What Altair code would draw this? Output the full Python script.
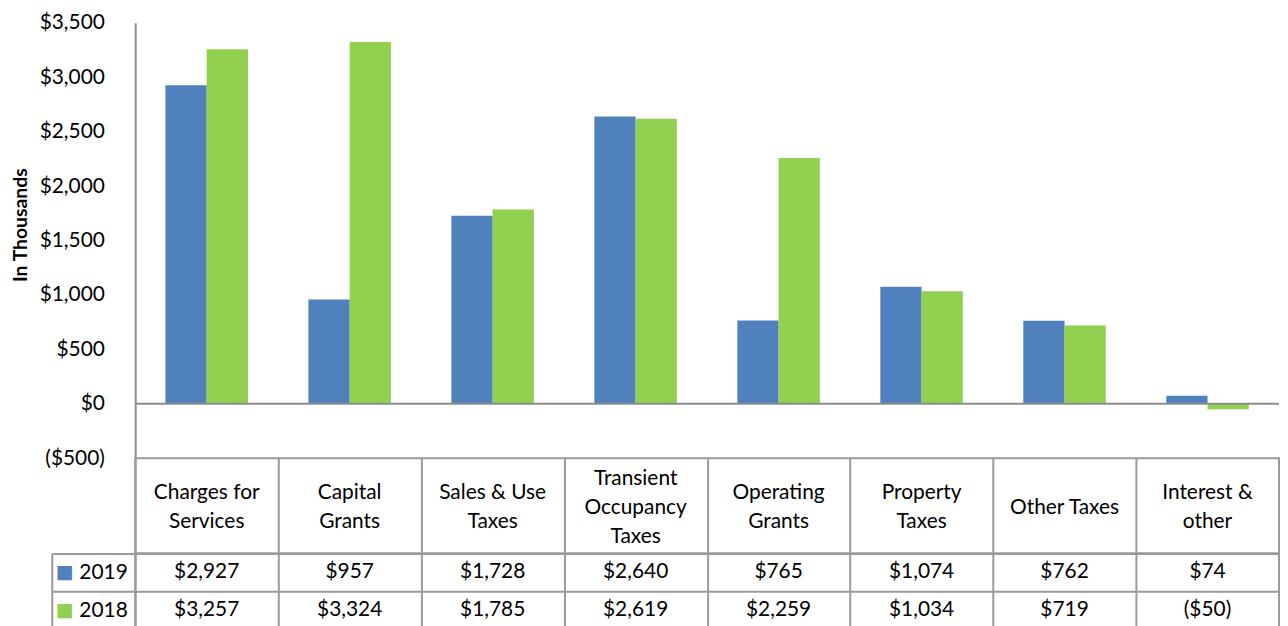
import altair as alt
import pandas as pd

categories = ["Charges for Services", "Capital Grants", "Sales & Use Taxes",
              "Transient Occupancy Taxes", "Operating Grants", "Property Taxes",
              "Other Taxes", "Interest & other"]
header_lines = [["Charges for", "Services"], ["Capital", "Grants"], ["Sales & Use", "Taxes"],
                ["Transient", "Occupancy", "Taxes"], ["Operating", "Grants"],
                ["Property", "Taxes"], ["Other Taxes"], ["Interest &", "other"]]
years = ["2019", "2018"]
values_2019 = [2927, 957, 1728, 2640, 765, 1074, 762, 74]
values_2018 = [3257, 3324, 1785, 2619, 2259, 1034, 719, -50]
colors = ["#4F81BD", "#92D050"]
y_ticks = [-500, 0, 500, 1000, 1500, 2000, 2500, 3000, 3500]

FONT = "Lato"
BORDER = "#9A9A9A"
FS = 21

rows = []
for yr, vals in zip(years, [values_2019, values_2018]):
    for c, v in zip(categories, vals):
        rows.append({"category": c, "year": yr, "value": v})
df = pd.DataFrame(rows)

# one row per header text line; "line" is its place relative to the cell's middle line
hrows = []
for c, lines in zip(categories, header_lines):
    n = len(lines)
    for i, t in enumerate(lines):
        hrows.append({"category": c, "text": t, "line": (n - 1) / 2 - i})
header_df = pd.DataFrame(hrows)

money = "datum.value < 0 ? '($' + format(-datum.value, ',') + ')' : '$' + format(datum.value, ',')"

bars = alt.Chart(df).mark_bar().encode(
    x=alt.X("category:N", sort=categories,
            scale=alt.Scale(paddingInner=0.423, paddingOuter=0.2115), axis=None),
    xOffset=alt.XOffset("year:N", sort=years),
    y=alt.Y("value:Q", scale=alt.Scale(domain=[-500, 3500], nice=False, zero=False),
            axis=alt.Axis(values=y_ticks, labelExpr=money, grid=False, ticks=False,
                          domain=True, domainColor="#8C8C8C", domainWidth=2,
                          labelFont=FONT, labelFontSize=FS, labelColor="#000000",
                          labelPadding=31, title="In Thousands", titleFont=FONT,
                          titleFontSize=19.5, titleFontWeight="bold", titleColor="#000000",
                          titlePadding=9, titleY=203)),
    color=alt.Color("year:N", sort=years,
                    scale=alt.Scale(domain=years, range=colors), legend=None),
)
zero = alt.Chart(pd.DataFrame({"z": [0]})).mark_rule(color="#8C8C8C", strokeWidth=2).encode(
    y=alt.Y("z:Q")
)
top = alt.layer(bars, zero).properties(
    width=1151, height=438, view=alt.ViewBackground(strokeWidth=0)
)

x_tab = alt.X("category:N", sort=categories,
              scale=alt.Scale(paddingInner=0, paddingOuter=0),
              axis=alt.Axis(title=None, labels=False, ticks=False, domain=False,
                            grid=True, tickBand="extent", gridColor=BORDER, gridWidth=2))

header = alt.Chart(header_df).mark_text(
    font=FONT, fontSize=FS, baseline="middle", color="#000000"
).encode(
    x=x_tab,
    y=alt.Y("line:Q", scale=alt.Scale(domain=[-1.586, 1.724], nice=False, zero=False),
            axis=None),
    text="text:N",
).properties(width=1151, height=96, view=alt.ViewBackground(stroke=BORDER, strokeWidth=2))

y_rows = alt.Y("year:N", sort=years, scale=alt.Scale(paddingInner=0, paddingOuter=0),
               axis=alt.Axis(title=None, domain=False, ticks=True, tickBand="extent",
                             tickSize=84, tickColor=BORDER, tickWidth=2, grid=True,
                             gridColor=BORDER, gridWidth=2, labelFont=FONT,
                             labelFontSize=FS, labelColor="#000000", labelPadding=-76,
                             labelAlign="right", orient="left"))

value_text = alt.Chart(df).transform_calculate(
    label=money
).mark_text(font=FONT, fontSize=FS, color="#000000").encode(
    x=x_tab, y=y_rows, text="label:N"
)

swatch_axis = alt.Chart(df).mark_text(opacity=0).encode(
    y=alt.Y("year:N", sort=years, scale=alt.Scale(paddingInner=0, paddingOuter=0),
            axis=alt.Axis(title=None, orient="left", offset=84, domain=True,
                          domainColor=BORDER, domainWidth=2, ticks=False, tickSize=0,
                          grid=False, labelExpr="'\u25A0'", labelFont="DejaVu Sans",
                          labelFontSize=19, labelAlign="left", labelPadding=-3.5,
                          labelColor=alt.condition("datum.value === '2019'",
                                                   alt.value(colors[0]),
                                                   alt.value(colors[1])))),
    text="year:N",
)

values = alt.layer(value_text, swatch_axis).resolve_axis(y="independent").properties(
    width=1151, height=76, view=alt.ViewBackground(stroke=BORDER, strokeWidth=2)
)

chart = alt.vconcat(top, header, values, spacing=0, bounds="flush").properties(
    padding={"left": 2, "top": 2, "right": 0, "bottom": 0}
).configure(font=FONT)

chart.save("out.html", embed_options={"renderer": "svg", "actions": False})
